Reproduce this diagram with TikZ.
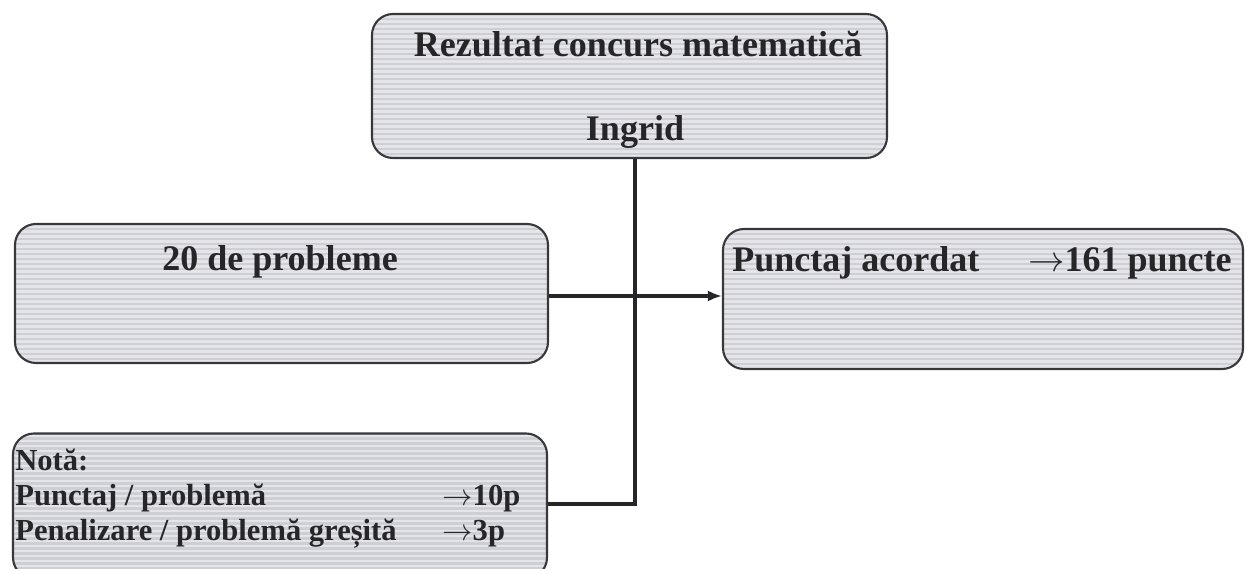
\documentclass[tikz,border=0pt]{standalone}
\usepackage{fontspec}
\setmainfont{Liberation Serif}
\usetikzlibrary{arrows.meta}
\definecolor{boxfill}{RGB}{206,206,213}
\definecolor{boxline}{RGB}{55,55,60}
\definecolor{stripe}{RGB}{228,228,233}
\definecolor{ink}{RGB}{38,38,40}
\newcommand{\toarrow}{$\rightarrow$}
\tikzset{
  panel/.style={draw=boxline, line width=1.2pt, rounded corners=0.42cm,
    fill=boxfill, inner sep=0pt,
    path picture={\foreach \k in {0,...,32}{
      \draw[stripe, line width=1.3pt]
        ([yshift=-\k*1mm-0.5mm]path picture bounding box.north west) --
        ([yshift=-\k*1mm-0.5mm]path picture bounding box.north east);}}},
  bigtext/.style={inner sep=0pt, text=ink, font=\fontsize{20.5}{24}\selectfont\bfseries},
  smalltext/.style={inner sep=0pt, text=ink, font=\fontsize{17.4}{20}\selectfont\bfseries},
  wire/.style={draw=ink, line width=1.9pt},
}
\begin{document}
\begin{tikzpicture}
\useasboundingbox (0,0) rectangle (24.94,-11.38);

% boxes
\node[panel, minimum width=10.30cm, minimum height=2.88cm] (top)  at (12.59,-1.72) {};
\node[panel, minimum width=10.66cm, minimum height=2.78cm] (mid)  at (5.63,-5.87) {};
\node[panel, minimum width=10.40cm, minimum height=2.80cm] (res)  at (19.66,-5.98) {};
\node[panel, minimum width=10.68cm, minimum height=2.90cm] (note) at (5.60,-10.12) {};

% box texts
\node[bigtext, anchor=base] (title) at (12.76,-1.14) {Rezultat concurs matematică};
\node[bigtext, anchor=base] (name) at (12.70,-2.82) {Ingrid};
\node[bigtext, anchor=base] (count) at (5.60,-5.42) {20 de probleme};
\node[bigtext, anchor=base west] (score) at (14.64,-5.44) {Punctaj acordat};
\node[bigtext, anchor=base east] (scoreval) at (24.64,-5.44) {\toarrow161 puncte};

\node[smalltext, anchor=base west] (notehead) at (0.30,-9.40) {Notă:};
\node[smalltext, anchor=base west] (rule1) at (0.30,-10.10) {Punctaj / problemă};
\node[smalltext, anchor=base west] (rule1v) at (8.84,-10.10) {\toarrow10p};
\node[smalltext, anchor=base west] (rule2) at (0.30,-10.80) {Penalizare / problemă greșită};
\node[smalltext, anchor=base west] (rule2v) at (8.84,-10.80) {\toarrow3p};

% connectors
\coordinate (j) at (12.70,-10.08);
\draw[wire] (top.south -| j) -- (j) -- (j -| note.east);
\draw[wire, -{Latex[length=0.28cm,width=0.22cm]}] ([yshift=-0.05cm]mid.east) -- ([yshift=-0.05cm]mid.east -| res.west);
\end{tikzpicture}
\end{document}
